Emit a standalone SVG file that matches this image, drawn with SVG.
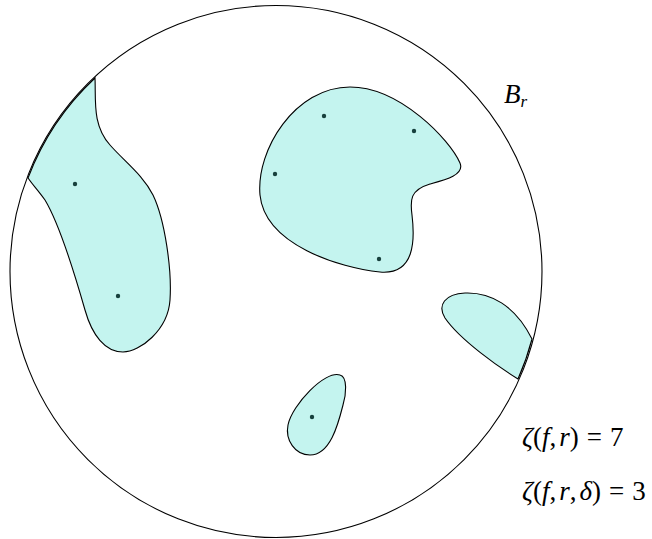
<svg xmlns="http://www.w3.org/2000/svg" width="652" height="539" viewBox="0 0 652 539">
<style>
.blob{fill:#c4f4ef;stroke:#000;stroke-width:1.1}
.dot{fill:#17403d}
.lbl{font-family:"Liberation Serif","DejaVu Serif",serif;font-size:27px;fill:#000}
.it{font-style:italic}
</style>
<rect width="652" height="539" fill="#fff"/>
<g id="ball">
<circle cx="276" cy="271.5" r="266" fill="none" stroke="#000" stroke-width="1.1"/>
</g>
<g id="blob-left">
<path class="blob" d="M 95 78 C 96 100, 92 125, 110 145 C 125 162, 143 175, 153 195 C 165 220, 172 270, 170 300 C 168 330, 140 352, 123 352 C 105 352, 92 335, 85 310 C 75 275, 60 225, 45 200 C 38 190, 32 184, 28 178 A 266 266 0 0 1 95 78 Z"/>
<circle class="dot" cx="75" cy="184" r="2.2"/>
<circle class="dot" cx="118" cy="296" r="2.2"/>
</g>
<g id="blob-top">
<path class="blob" d="M 350 87 C 400 87, 450 140, 460 163 C 465 175, 445 180, 430 184 C 410 190, 410 200, 412 215 C 415 240, 415 275, 380 272 C 340 268, 265 245, 260 195 C 256 150, 295 87, 350 87 Z"/>
<circle class="dot" cx="324" cy="116" r="2.2"/>
<circle class="dot" cx="414" cy="131" r="2.2"/>
<circle class="dot" cx="275" cy="174" r="2.2"/>
<circle class="dot" cx="379" cy="259" r="2.2"/>
</g>
<g id="blob-right">
<path class="blob" d="M 532 339 C 515 305, 490 292, 465 293 C 445 294, 437 305, 445 318 C 460 340, 500 368, 518 379 A 266 266 0 0 0 532 339 Z"/>
</g>
<g id="blob-bottom">
<path class="blob" d="M 340 375 C 348 377, 346 395, 343 405 C 338 425, 330 455, 310 455 C 295 455, 285 440, 288 425 C 292 405, 325 370, 340 375 Z"/>
<circle class="dot" cx="312" cy="417" r="2.2"/>
</g>
<g id="labels">
<text class="lbl" x="504" y="103" font-size="25"><tspan class="it">B</tspan><tspan class="it" font-size="17" dy="4">r</tspan></text>
<text class="lbl" x="522" y="446"><tspan class="it">ζ</tspan>(<tspan class="it">f</tspan>,<tspan class="it" dx="3">r</tspan>)<tspan dx="8">=</tspan><tspan dx="8">7</tspan></text>
<text class="lbl" x="522" y="500"><tspan class="it">ζ</tspan>(<tspan class="it">f</tspan>,<tspan class="it" dx="3">r</tspan>,<tspan class="it" dx="3">δ</tspan>)<tspan dx="8">=</tspan><tspan dx="8">3</tspan></text>
</g>
</svg>
